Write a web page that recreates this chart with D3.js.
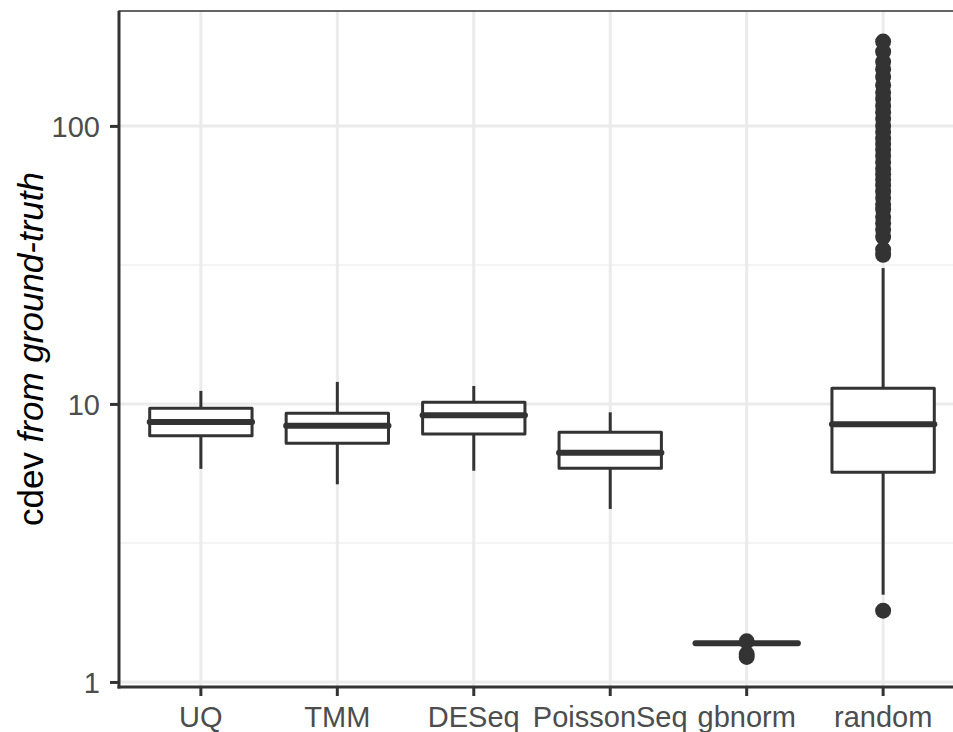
<!DOCTYPE html>
<html>
<head>
<meta charset="utf-8">
<script src="https://cdn.jsdelivr.net/npm/d3@7"></script>
<style>
  body { margin: 0; background: #fff; }
  svg text { font-family: "Liberation Sans", Arial, sans-serif; }
</style>
</head>
<body>
<svg id="chart" width="953" height="732"></svg>
<script>
// categories and box stats
var categories = ["UQ", "TMM", "DESeq", "PoissonSeq", "gbnorm", "random"];
var lower_whisker = [5.84, 5.14, 5.75, 4.19, 1.37, 2.06];
var q1 = [7.69, 7.22, 7.80, 5.87, 1.37, 5.68];
var median = [8.61, 8.35, 9.10, 6.68, 1.377, 8.45];
var q3 = [9.65, 9.26, 10.14, 7.91, 1.385, 11.39];
var upper_whisker = [11.14, 12.0, 11.6, 9.33, 1.385, 30.8];

// outliers per category
var outliers_gbnorm = [1.40, 1.26, 1.23];
var outliers_random = [1.805, 34.4, 35.9, 39.9, 42.3, 44.7, 47, 50, 52, 55, 58, 61, 64, 67,
  70, 74, 78, 82, 86, 90, 95, 100, 106, 112, 118, 125, 132, 140, 150, 160, 170, 185, 201];

var y_ticks = [1, 10, 100];
var y_minor = [Math.sqrt(10), Math.sqrt(1000)];

var svg = d3.select("#chart"),
    margin = {top: 11, right: -12, bottom: 45, left: 119},
    width = +svg.attr("width") - margin.left - margin.right,
    height = +svg.attr("height") - margin.top - margin.bottom;

var ink = "#333333";

var x = d3.scaleBand().domain(categories).range([0, width]).paddingInner(0).paddingOuter(0.1);
var y = d3.scaleLog().domain([0.959, 259]).range([height, 0]);

var g = svg.append("g")
    .attr("transform", "translate(" + margin.left + "," + margin.top + ")");

var clip = svg.append("clipPath").attr("id", "panel")
  .append("rect").attr("width", width).attr("height", height);

//grid
g.selectAll(".minor").data(y_minor).enter().append("line")
    .attr("x1", 0).attr("x2", width)
    .attr("y1", function(d) { return y(d); }).attr("y2", function(d) { return y(d); })
    .attr("stroke", "#f0f0f0").attr("stroke-width", 1.5);
g.selectAll(".major").data(y_ticks).enter().append("line")
    .attr("x1", 0).attr("x2", width)
    .attr("y1", function(d) { return y(d); }).attr("y2", function(d) { return y(d); })
    .attr("stroke", "#ebebeb").attr("stroke-width", 3);
g.selectAll(".vgrid").data(categories).enter().append("line")
    .attr("x1", function(d) { return x(d) + x.bandwidth() / 2; })
    .attr("x2", function(d) { return x(d) + x.bandwidth() / 2; })
    .attr("y1", 0).attr("y2", height)
    .attr("stroke", "#ebebeb").attr("stroke-width", 3);

var marks = g.append("g").attr("clip-path", "url(#panel)");
var boxW = x.bandwidth() * 0.75;

categories.forEach(function(c, i) {
  var cx = x(c) + x.bandwidth() / 2;
  // whiskers
  marks.append("line").attr("x1", cx).attr("x2", cx)
      .attr("y1", y(q3[i])).attr("y2", y(upper_whisker[i]))
      .attr("stroke", ink).attr("stroke-width", 3);
  marks.append("line").attr("x1", cx).attr("x2", cx)
      .attr("y1", y(q1[i])).attr("y2", y(lower_whisker[i]))
      .attr("stroke", ink).attr("stroke-width", 3);
  // box
  marks.append("rect")
      .attr("x", cx - boxW / 2).attr("width", boxW)
      .attr("y", y(q3[i])).attr("height", Math.max(0.1, y(q1[i]) - y(q3[i])))
      .attr("fill", "#fff").attr("stroke", ink).attr("stroke-width", 3)
      .attr("stroke-linejoin", "round");
  // median
  marks.append("line")
      .attr("x1", cx - boxW / 2).attr("x2", cx + boxW / 2)
      .attr("y1", y(median[i])).attr("y2", y(median[i]))
      .attr("stroke", ink).attr("stroke-width", 6).attr("stroke-linecap", "round");
});

function draw_outliers(cat, values) {
  marks.selectAll(".pt-" + cat).data(values).enter().append("circle")
      .attr("cx", x(cat) + x.bandwidth() / 2)
      .attr("cy", function(d) { return y(d); })
      .attr("r", 8)
      .attr("fill", ink);
}
draw_outliers("gbnorm", outliers_gbnorm);
draw_outliers("random", outliers_random);

// panel border
g.append("rect").attr("width", width).attr("height", height)
    .attr("fill", "none").attr("stroke", ink).attr("stroke-width", 1.5);
g.append("line").attr("x1", 0).attr("x2", 0).attr("y1", 0).attr("y2", height + 1.5)
    .attr("stroke", ink).attr("stroke-width", 3);
g.append("line").attr("x1", -1.5).attr("x2", width).attr("y1", height).attr("y2", height)
    .attr("stroke", ink).attr("stroke-width", 3);

// axes
var yAxis = g.append("g")
    .call(d3.axisLeft(y).tickValues(y_ticks).tickFormat(d3.format("d")).tickSize(9).tickPadding(10));
var xAxis = g.append("g").attr("transform", "translate(0," + height + ")")
    .call(d3.axisBottom(x).tickSize(9).tickPadding(10));
[yAxis, xAxis].forEach(function(a) {
  a.select(".domain").remove();
  a.selectAll(".tick line").attr("stroke", ink).attr("stroke-width", 3);
  a.selectAll(".tick text").attr("fill", "#4d4d4d").style("font-size", "29px");
});
yAxis.selectAll(".tick text").attr("dy", "0.36em");

// y title
var title = svg.append("text")
    .attr("transform", "translate(43," + (margin.top + height / 2) + ") rotate(-90)")
    .attr("text-anchor", "middle")
    .style("font-size", "35px")
    .attr("fill", "#000");
title.append("tspan").text("cdev ");
title.append("tspan").style("font-style", "italic").text("from ground-truth");
</script>
</body>
</html>
